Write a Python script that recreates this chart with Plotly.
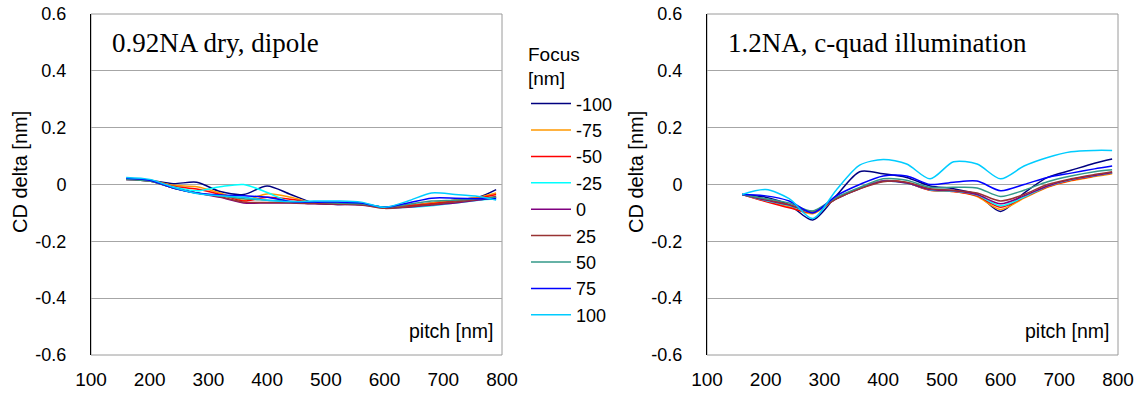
import plotly.graph_objects as go

# ---------------- data ----------------
pitch = [160, 200, 240, 280, 320, 360, 400, 440, 480, 520, 560, 600, 640, 680, 720, 760, 790]
focus_labels = ["-100", "-75", "-50", "-25", "0", "25", "50", "75", "100"]

# left panel: 0.92NA dry, dipole
dry_m100 = [0.020, 0.015, 0.003, 0.008, -0.025, -0.035, -0.005, -0.035, -0.065, -0.070, -0.070, -0.080, -0.075, -0.065, -0.055, -0.045, -0.018]
dry_m75 = [0.020, 0.015, -0.003, -0.008, -0.030, -0.055, -0.033, -0.045, -0.065, -0.065, -0.068, -0.080, -0.075, -0.065, -0.055, -0.045, -0.030]
dry_m50 = [0.020, 0.015, -0.006, -0.016, -0.035, -0.058, -0.045, -0.052, -0.065, -0.068, -0.070, -0.080, -0.075, -0.068, -0.058, -0.048, -0.035]
dry_m25 = [0.020, 0.015, -0.008, -0.022, -0.008, 0.000, -0.028, -0.062, -0.065, -0.065, -0.068, -0.080, -0.080, -0.075, -0.065, -0.055, -0.050]
dry_0 = [0.018, 0.012, -0.012, -0.030, -0.045, -0.065, -0.065, -0.065, -0.068, -0.070, -0.072, -0.082, -0.080, -0.072, -0.065, -0.055, -0.045]
dry_25 = [0.018, 0.012, -0.012, -0.030, -0.043, -0.062, -0.063, -0.064, -0.067, -0.069, -0.071, -0.084, -0.078, -0.070, -0.062, -0.052, -0.042]
dry_50 = [0.018, 0.012, -0.012, -0.030, -0.040, -0.050, -0.055, -0.060, -0.062, -0.065, -0.068, -0.080, -0.070, -0.058, -0.055, -0.050, -0.045]
dry_75 = [0.022, 0.015, -0.012, -0.030, -0.037, -0.040, -0.045, -0.060, -0.062, -0.062, -0.065, -0.080, -0.065, -0.048, -0.048, -0.050, -0.050]
dry_100 = [0.025, 0.018, -0.010, -0.032, -0.040, -0.045, -0.055, -0.060, -0.058, -0.058, -0.062, -0.080, -0.058, -0.030, -0.035, -0.042, -0.055]

# right panel: 1.2NA, c-quad illumination
wet_m100 = [-0.035, -0.045, -0.072, -0.125, -0.040, 0.045, 0.038, 0.025, -0.005, -0.015, -0.035, -0.095, -0.030, 0.025, 0.050, 0.075, 0.090]
wet_m75 = [-0.035, -0.058, -0.078, -0.103, -0.050, -0.012, 0.012, 0.006, -0.020, -0.025, -0.042, -0.088, -0.048, -0.010, 0.013, 0.028, 0.038]
wet_m50 = [-0.035, -0.060, -0.082, -0.098, -0.050, -0.013, 0.013, 0.006, -0.020, -0.025, -0.040, -0.080, -0.045, -0.008, 0.015, 0.030, 0.040]
wet_m25 = [-0.035, -0.056, -0.074, -0.096, -0.050, -0.014, 0.012, 0.005, -0.019, -0.023, -0.037, -0.075, -0.044, -0.006, 0.017, 0.031, 0.041]
wet_0 = [-0.035, -0.055, -0.072, -0.095, -0.050, -0.015, 0.012, 0.005, -0.018, -0.022, -0.035, -0.068, -0.040, -0.005, 0.018, 0.032, 0.042]
wet_25 = [-0.035, -0.052, -0.070, -0.095, -0.050, -0.015, 0.010, 0.008, -0.015, -0.020, -0.030, -0.058, -0.035, 0.000, 0.020, 0.035, 0.045]
wet_50 = [-0.035, -0.050, -0.065, -0.093, -0.045, -0.010, 0.020, 0.015, -0.010, -0.010, -0.012, -0.042, -0.020, 0.010, 0.030, 0.045, 0.052]
wet_75 = [-0.035, -0.040, -0.058, -0.100, -0.040, 0.000, 0.030, 0.030, 0.000, 0.008, 0.012, -0.022, 0.000, 0.025, 0.040, 0.055, 0.065]
wet_100 = [-0.035, -0.018, -0.050, -0.120, -0.020, 0.068, 0.088, 0.072, 0.020, 0.080, 0.072, 0.020, 0.065, 0.095, 0.115, 0.120, 0.120]

x_ticks = [100, 200, 300, 400, 500, 600, 700, 800]
y_ticks = [-0.6, -0.4, -0.2, 0, 0.2, 0.4, 0.6]
y_ticklabels = ["-0.6", "-0.4", "-0.2", "0", "0.2", "0.4", "0.6"]

dry_series = [dry_m100, dry_m75, dry_m50, dry_m25, dry_0, dry_25, dry_50, dry_75, dry_100]
wet_series = [wet_m100, wet_m75, wet_m50, wet_m25, wet_0, wet_25, wet_50, wet_75, wet_100]

# ---------------- style ----------------
colors = ["#000080", "#FF9900", "#FF0000", "#00FFFF", "#800080",
          "#993333", "#339988", "#0000FF", "#00CCFF"]
SANS = "Liberation Sans, Arial, sans-serif"
SERIF = "Liberation Serif, Times New Roman, serif"
W, H = 1139, 396
T, B = 14, 41
PH = H - T - B
GRID = "#a6a6a6"
CLEAR = "rgba(0,0,0,0)"

fig = go.Figure()
for lab, col, ys in zip(focus_labels, colors, dry_series):
    fig.add_trace(go.Scatter(x=pitch, y=ys, name=lab, mode="lines",
                             line=dict(color=col, width=1.5, shape="spline", smoothing=0.8),
                             xaxis="x", yaxis="y", hoverinfo="skip"))
for lab, col, ys in zip(focus_labels, colors, wet_series):
    fig.add_trace(go.Scatter(x=pitch, y=ys, name=lab, mode="lines", showlegend=False,
                             line=dict(color=col, width=1.5, shape="spline", smoothing=0.8),
                             xaxis="x2", yaxis="y2", hoverinfo="skip"))

dom1 = [91 / W, 502 / W]
dom2 = [707 / W, 1118 / W]

def xbase(dom, anchor):
    return dict(domain=dom, range=[100, 800], tickvals=x_ticks, ticks="outside",
                ticklen=7, tickcolor=CLEAR, automargin=False,
                showline=False, showgrid=False, zeroline=False, anchor=anchor,
                tickfont=dict(family=SANS, size=19, color="black"))

def xzero(over):
    return dict(overlaying=over, anchor="free", position=0.5, range=[100, 800],
                tickvals=x_ticks, ticks="outside", ticklen=5, tickcolor="black",
                showticklabels=False, showline=True, linecolor="black", linewidth=1,
                showgrid=False, zeroline=False, automargin=False)

def ybase(anchor):
    return dict(domain=[0, 1], range=[-0.6, 0.6], tickvals=y_ticks, ticktext=y_ticklabels,
                ticks="outside", ticklen=20, tickcolor=CLEAR, showline=True,
                linecolor="black", linewidth=1, showgrid=True, gridcolor=GRID, gridwidth=1,
                zeroline=False, anchor=anchor, automargin=False,
                tickfont=dict(family=SANS, size=18, color="black"))

def yticks(over, anchor):
    return dict(overlaying=over, anchor=anchor, side="left", range=[-0.6, 0.6],
                tickvals=y_ticks, ticks="outside", ticklen=5, tickcolor="black",
                showticklabels=False, showline=True, linecolor="black", linewidth=1,
                showgrid=False, zeroline=False, automargin=False)

fig.update_layout(
    template="none",
    width=W, height=H, paper_bgcolor="white", plot_bgcolor="white",
    margin=dict(l=0, r=0, t=T, b=B, autoexpand=False),
    xaxis=xbase(dom1, "y"), xaxis2=xbase(dom2, "y2"),
    xaxis3=xzero("x"), xaxis4=xzero("x2"),
    yaxis=ybase("x"), yaxis2=ybase("x2"),
    yaxis3=yticks("y", "x"), yaxis4=yticks("y2", "x2"),
    showlegend=True,
    legend=dict(x=526 / W, y=1 - (36 - T) / PH, xanchor="left", yanchor="top",
                bgcolor=CLEAR, borderwidth=0, itemwidth=40,
                font=dict(family=SANS, size=18, color="black"),
                title=dict(text="Focus<br>[nm]", font=dict(family=SANS, size=19, color="black")),
                tracegroupgap=0),
)

# plot-area borders (gray)
for xr, yr in (("x domain", "y domain"), ("x2 domain", "y2 domain")):
    fig.add_shape(type="rect", xref=xr, yref=yr, x0=0, x1=1, y0=0, y1=1,
                  line=dict(color="#9a9a9a", width=1), layer="below")

ann = []
def ytitle(xpx):
    return dict(text="CD delta [nm]", x=xpx / W, y=(H - B - 172) / PH, xref="paper", yref="paper",
                textangle=-90, showarrow=False, xanchor="center", yanchor="middle",
                font=dict(family=SANS, size=20, color="black"))
ann.append(ytitle(20))
ann.append(ytitle(636))
for xr, txt in (("x domain", "0.92NA dry, dipole"), ("x2 domain", "1.2NA, c-quad illumination")):
    ann.append(dict(text=txt, x=0.046, y=(H - B - 43) / PH, xref=xr, yref="paper",
                    showarrow=False, xanchor="left", yanchor="middle",
                    font=dict(family=SERIF, size=27, color="black")))
    
for xr in ("x domain", "x2 domain"):
    ann.append(dict(text="pitch [nm]", x=0.985, y=(H - B - 331) / PH, xref=xr, yref="paper",
                    showarrow=False, xanchor="right", yanchor="middle",
                    font=dict(family=SANS, size=19.5, color="black")))
fig.update_layout(annotations=ann)

fig.write_html("out.html")
